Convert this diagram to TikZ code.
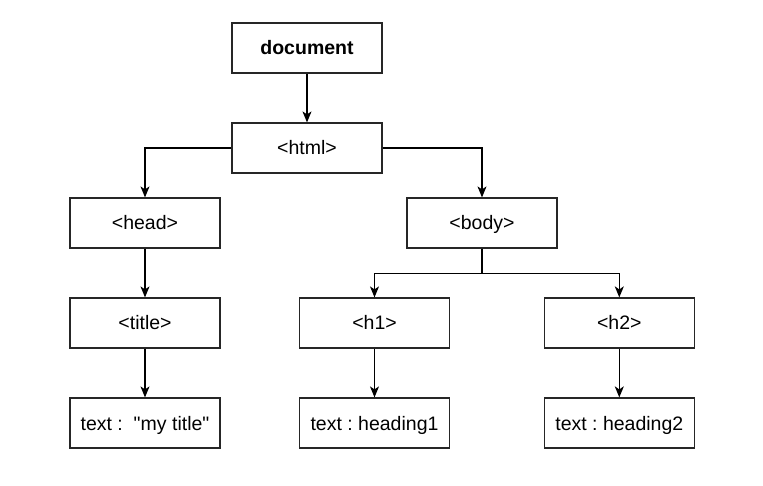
\documentclass[tikz,border=0pt]{standalone}
\usepackage{fontspec}
\setmainfont{Liberation Sans}[Ligatures=TeXOff]
\usetikzlibrary{arrows.meta}
\tikzset{
  box/.style={draw=black!85, line width=1.2pt, minimum width=150pt, minimum height=50pt, inner sep=0pt, text height=14pt, text depth=0pt, font=\fontsize{19.5}{23}\selectfont, text=black},
  arr/.style={draw=black, line width=1.2pt, -{Stealth[length=11pt,width=9pt,inset=3pt]}}
}
\begin{document}
\frenchspacing
\begin{tikzpicture}[x=1pt,y=1pt]
\useasboundingbox (0,0) rectangle (763,-486);
\fill[white] (0,0) rectangle (763,-486);
\node[box, font=\fontsize{19.5}{23}\selectfont\bfseries] (doc) at (307,-48) {document};
\node[box] (html) at (307,-148) {<html>};
\node[box] (head) at (145,-223) {<head>};
\node[box] (body) at (482,-223) {<body>};
\node[box] (title) at (145,-323) {<title>};
\node[box] (h1) at (374.5,-323) {<h1>};
\node[box] (h2) at (619.3,-323) {<h2>};
\node[box] (t1) at (145,-423) {text :\ \ "my title"};
\node[box] (t2) at (374.5,-423) {text : heading1};
\node[box] (t3) at (619.3,-423) {text : heading2};
\draw[arr] (doc.south) -- (html.north);
\draw[arr] (html.west) -| (head.north);
\draw[arr] (html.east) -| (body.north);
\draw[arr] (head.south) -- (title.north);
\draw[arr] (title.south) -- (t1.north);
\draw[arr] (body.south) -- ++(0,-25) -| (h1.north);
\draw[arr] (body.south) -- ++(0,-25) -| (h2.north);
\draw[arr] (h1.south) -- (t2.north);
\draw[arr] (h2.south) -- (t3.north);
\end{tikzpicture}
\end{document}
